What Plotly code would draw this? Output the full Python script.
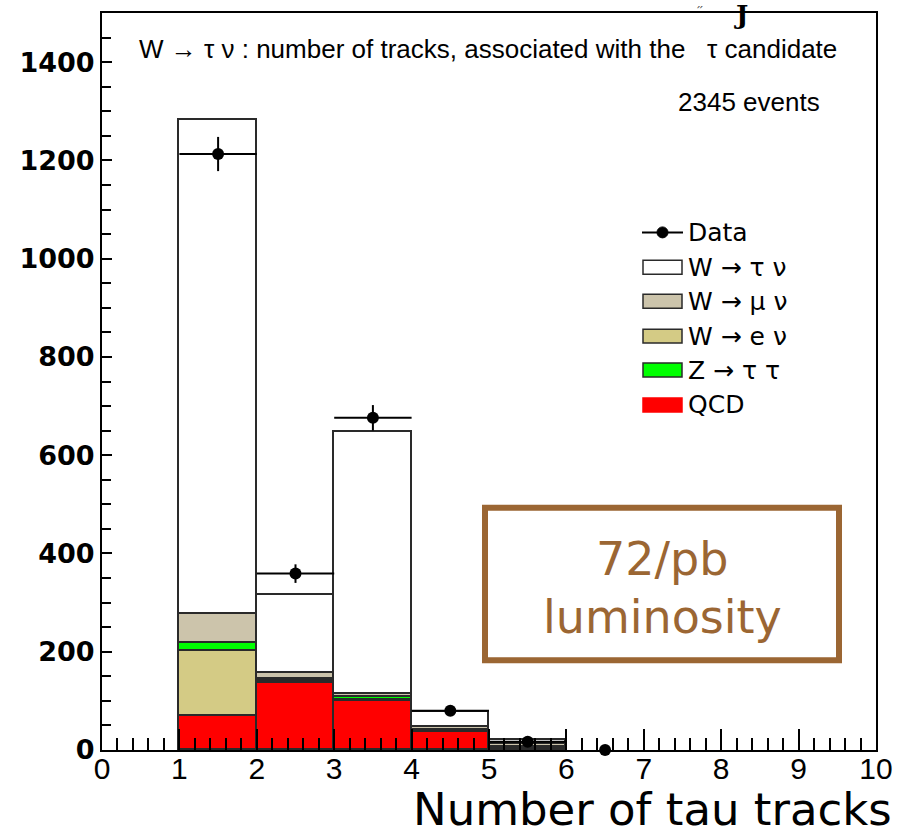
import plotly.graph_objects as go

# ---- histogram data: number of tracks associated with the tau candidate ----
bin_centers = [1.5, 2.5, 3.5, 4.5, 5.5]

qcd       = [69, 137, 100, 37, 5]
w_enu     = [133, 3, 2, 1, 1]
z_tautau  = [15, 4, 6, 2, 1]
w_munu    = [59, 13, 7, 6, 6]
w_taunu   = [1007, 158, 532, 32, 7]

data_x    = [1.5, 2.5, 3.5, 4.5, 5.5, 6.5]
data_y    = [1213, 359, 676, 80, 17, 0]
data_err  = [34.8, 18.9, 26.0, 8.9, 4.1, 0.0]
data_xerr = [0.5, 0.5, 0.5, 0.5, 0.5, 0.0]

x_ticks = list(range(0, 11))
y_ticks = list(range(0, 1401, 200))

# ---- style ----
OUTLINE = "#2a2a2a"
COL_QCD = "#ff0000"
COL_Z = "#00ff00"
COL_WE = "#d4cb85"
COL_WMU = "#ccc4ab"
COL_WTAU = "#ffffff"
BROWN = "#9b6633"

# plot-area pixel frame, used to place overlay text and the hand-drawn legend
X0, X1 = 102, 876
Y0, Y1 = 11, 750


def px(x):
    return (x - X0) / (X1 - X0)


def py(y):
    return (Y1 - y) / (Y1 - Y0)


fig = go.Figure()

# stacked from the bottom up
stack = [
    ("QCD", qcd, COL_QCD),
    ("W → e ν", w_enu, COL_WE),
    ("Z → τ τ", z_tautau, COL_Z),
    ("W → μ ν", w_munu, COL_WMU),
    ("W → τ ν", w_taunu, COL_WTAU),
]
for name, vals, col in stack:
    fig.add_trace(go.Bar(
        x=bin_centers, y=vals, width=1.0, name=name,
        marker=dict(color=col, line=dict(color=OUTLINE, width=1.8)),
        showlegend=False,
    ))

fig.add_trace(go.Scatter(
    x=data_x, y=data_y, mode="markers", name="Data",
    marker=dict(color="black", size=12),
    error_y=dict(type="data", array=data_err, color="black", thickness=2, width=0),
    error_x=dict(type="data", array=data_xerr, color="black", thickness=2, width=0),
    cliponaxis=False, showlegend=False,
))

shapes = []
annotations = []

# legend drawn by hand: wide fill boxes as in ROOT
leg_font = dict(family="DejaVu Sans", size=25, color="black")
rows = [231, 266, 300, 335, 369, 404]
leg_items = [
    ("Data", None, None),
    ("W → τ ν", COL_WTAU, OUTLINE),
    ("W → μ ν", COL_WMU, OUTLINE),
    ("W → e ν", COL_WE, OUTLINE),
    ("Z → τ τ", COL_Z, OUTLINE),
    ("QCD", COL_QCD, COL_QCD),
]
for (label, fill, edge), ry in zip(leg_items, rows):
    if fill is None:
        shapes.append(dict(type="line", xref="paper", yref="paper",
                           x0=px(642), x1=px(683), y0=py(ry), y1=py(ry),
                           line=dict(color="black", width=2)))
        shapes.append(dict(type="circle", xref="paper", yref="paper",
                           x0=px(657), x1=px(668), y0=py(ry + 5.5), y1=py(ry - 5.5),
                           fillcolor="black", line=dict(color="black", width=1)))
    else:
        shapes.append(dict(type="rect", xref="paper", yref="paper",
                           x0=px(643), x1=px(682), y0=py(ry + 7), y1=py(ry - 7),
                           fillcolor=fill, line=dict(color=edge, width=1.5)))
    annotations.append(dict(text=label, xref="paper", yref="paper",
                            x=px(686), y=py(ry), xanchor="left", yanchor="middle",
                            showarrow=False, font=leg_font))

# header texts
hdr_font = dict(family="Liberation Sans", size=26, color="black")
annotations.append(dict(
    text="W → τ ν : number of tracks, associated with the   τ candidate",
    xref="paper", yref="paper", x=px(137), y=py(47), xanchor="left", yanchor="middle",
    showarrow=False, font=hdr_font))
annotations.append(dict(
    text="2345 events", xref="paper", yref="paper", x=px(822), y=py(100),
    xanchor="right", yanchor="middle", showarrow=False, font=hdr_font))

# fragments of a clipped line of text peeking over the top of the frame
annotations.append(dict(text="J", xref="paper", yref="paper", x=px(741), y=py(13),
                        xanchor="center", yanchor="middle", showarrow=False,
                        font=dict(family="DejaVu Serif", size=26, color="black", weight="bold")))
annotations.append(dict(text="״", xref="paper", yref="paper", x=px(700), y=py(7),
                        xanchor="center", yanchor="middle", showarrow=False,
                        font=dict(family="DejaVu Sans", size=12, color="#444444")))

# luminosity box
shapes.append(dict(type="rect", xref="paper", yref="paper",
                   x0=px(485), x1=px(839), y0=py(507), y1=py(660),
                   line=dict(color=BROWN, width=6), fillcolor="rgba(0,0,0,0)"))
lum_font = dict(family="DejaVu Sans", size=46, color=BROWN)
annotations.append(dict(text="72/pb", xref="paper", yref="paper", x=px(662), y=py(558),
                        xanchor="center", yanchor="middle", showarrow=False, font=lum_font))
annotations.append(dict(text="luminosity", xref="paper", yref="paper", x=px(662), y=py(617),
                        xanchor="center", yanchor="middle", showarrow=False, font=lum_font))

# x-axis title, right aligned below the axis
annotations.append(dict(text="Number of tau tracks", xref="paper", yref="paper",
                        x=px(894), y=py(838), xanchor="right", yanchor="bottom",
                        showarrow=False,
                        font=dict(family="DejaVu Sans", size=45, color="black")))

fig.update_layout(
    width=910, height=838,
    margin=dict(l=X0, r=910 - X1, t=Y0, b=838 - Y1, pad=0),
    paper_bgcolor="white", plot_bgcolor="white",
    barmode="stack", bargap=0,
    shapes=shapes, annotations=annotations,
    showlegend=False,
)
fig.update_xaxes(
    range=[0, 10], tickvals=x_ticks, ticktext=[str(v) for v in x_ticks],
    showgrid=False, zeroline=False,
    showline=True, linecolor="black", linewidth=2, mirror=True,
    ticks="inside", ticklen=21, tickwidth=1.5, tickcolor="black",
    minor=dict(dtick=0.2, tick0=0, ticks="inside", ticklen=12, tickwidth=1.5, tickcolor="black"),
    tickfont=dict(family="Liberation Sans", size=30, color="black"),
    ticklabelstandoff=-9,
    layer="above traces",
)
fig.update_yaxes(
    range=[0, 1500], tickvals=y_ticks, ticktext=[str(v) for v in y_ticks],
    showgrid=False, zeroline=False,
    showline=True, linecolor="black", linewidth=2, mirror=True,
    ticks="inside", ticklen=10, tickwidth=1.5, tickcolor="black",
    minor=dict(dtick=50, tick0=0, ticks="inside", ticklen=9, tickwidth=1.5, tickcolor="black"),
    tickfont=dict(family="DejaVu Sans", size=27, color="black", weight="bold"),
    layer="above traces",
)

fig.write_html("out.html")
